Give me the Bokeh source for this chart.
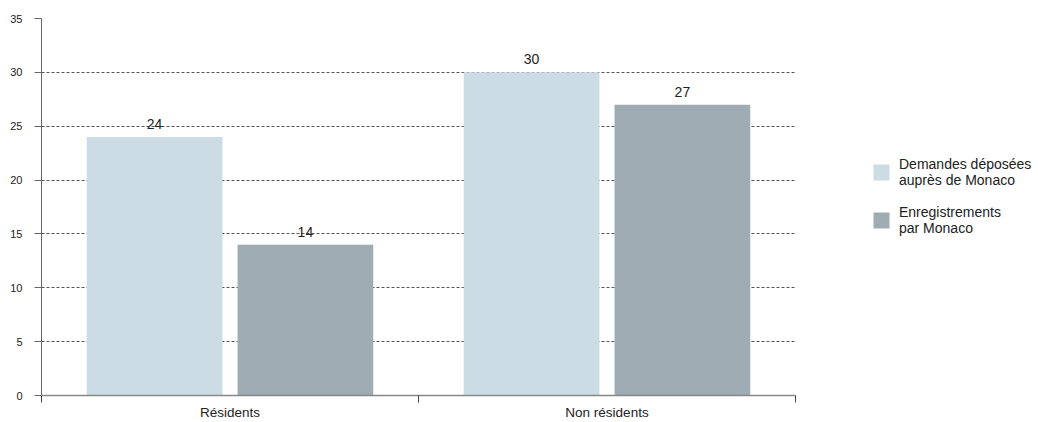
from bokeh.plotting import figure
from bokeh.models import Range1d, FixedTicker, Legend, LegendItem, ColumnDataSource
from bokeh.layouts import row
from bokeh.core.properties import value
from bokeh.embed import file_html
from bokeh.resources import INLINE
import numpy as np

categories = ["Résidents", "Non résidents"]
demandes = [24, 30]
enregistrements = [14, 27]
series_names = ["Demandes déposées\nauprès de Monaco", "Enregistrements\npar Monaco"]
colors = ["#CCDCE4", "#9FACB4"]
y_ticks = [0, 5, 10, 15, 20, 25, 30, 35]

FONT = "Liberation Sans"

p = figure(width=800, height=422, output_backend="svg", toolbar_location=None,
           x_range=Range1d(0, len(categories)), y_range=Range1d(0, 35))
p.min_border_left = 41
p.min_border_top = 18
p.min_border_bottom = 24
p.min_border_right = 5
p.outline_line_color = None
p.background_fill_color = "white"

centers = np.arange(len(categories)) + 0.5
offsets = [-0.2, 0.2]
width = 0.36

for vals, off, col in zip([demandes, enregistrements], offsets, colors):
    src = ColumnDataSource(dict(x=centers + off, top=vals, lab=[str(v) for v in vals]))
    p.vbar(x="x", top="top", width=width, source=src, fill_color=col, line_color=None)
    p.text(x="x", y="top", text="lab", source=src, text_align="center",
           text_baseline="alphabetic", y_offset=-13, text_font=value(FONT),
           text_font_size="14px", text_color="#222222")

# grid
p.xgrid.visible = False
p.ygrid.ticker = FixedTicker(ticks=y_ticks)
p.ygrid.grid_line_color = "#555555"
p.ygrid.grid_line_dash = "3 2"
p.ygrid.grid_line_width = 1
p.ygrid.level = "underlay"

# y axis
p.yaxis.ticker = FixedTicker(ticks=y_ticks)
p.yaxis.major_tick_out = 7
p.yaxis.major_tick_in = 0
p.yaxis.minor_tick_line_color = None
p.yaxis.axis_line_color = "#666666"
p.yaxis.major_tick_line_color = "#666666"
p.yaxis.major_label_text_font = FONT
p.yaxis.major_label_text_font_size = "11px"
p.yaxis.major_label_text_color = "#222222"
p.yaxis.major_label_standoff = 12

# x axis: labels at category centers, ticks at boundaries (minor ticks)
p.xaxis.ticker = FixedTicker(ticks=list(centers), minor_ticks=list(range(len(categories) + 1)))
p.xaxis.major_label_overrides = {float(c): n for c, n in zip(centers, categories)}
p.xaxis.major_tick_line_color = None
p.xaxis.major_tick_out = 7
p.xaxis.major_tick_in = 0
p.xaxis.minor_tick_out = 7
p.xaxis.minor_tick_in = 0
p.xaxis.minor_tick_line_color = "#444444"
p.xaxis.axis_line_color = "#888888"
p.xaxis.axis_line_width = 1.5
p.xaxis.major_label_text_font = FONT
p.xaxis.major_label_text_font_size = "13.5px"
p.xaxis.major_label_text_color = "#222222"
p.xaxis.major_label_standoff = 2

# legend panel
lg = figure(width=236, height=422, output_backend="svg", toolbar_location=None,
            x_range=Range1d(0, 1), y_range=Range1d(0, 1))
lg.axis.visible = False
lg.grid.visible = False
lg.outline_line_color = None
lg.min_border = 0
lg_renderers = []
for col in colors:
    # placeholder renderer outside the visible range, only used for the legend swatch
    lsrc = ColumnDataSource(dict(x=[5.0], top=[0.0]))
    lg_renderers.append(lg.vbar(x="x", top="top", width=0.1, source=lsrc,
                                fill_color=col, line_color=None))

legend = Legend(items=[LegendItem(label=n, renderers=[r]) for n, r in zip(series_names, lg_renderers)],
                location=(71, 159), orientation="vertical")
legend.label_text_font = FONT
legend.label_text_font_size = "14px"
legend.label_text_color = "#222222"
legend.glyph_width = 20
legend.glyph_height = 20
legend.spacing = 16
legend.border_line_color = None
legend.background_fill_alpha = 0
legend.padding = 0
legend.margin = 0
legend.label_standoff = 8
lg.add_layout(legend, "center")

layout = row(p, lg, spacing=0)
open("out.html", "w").write(file_html(layout, INLINE))
